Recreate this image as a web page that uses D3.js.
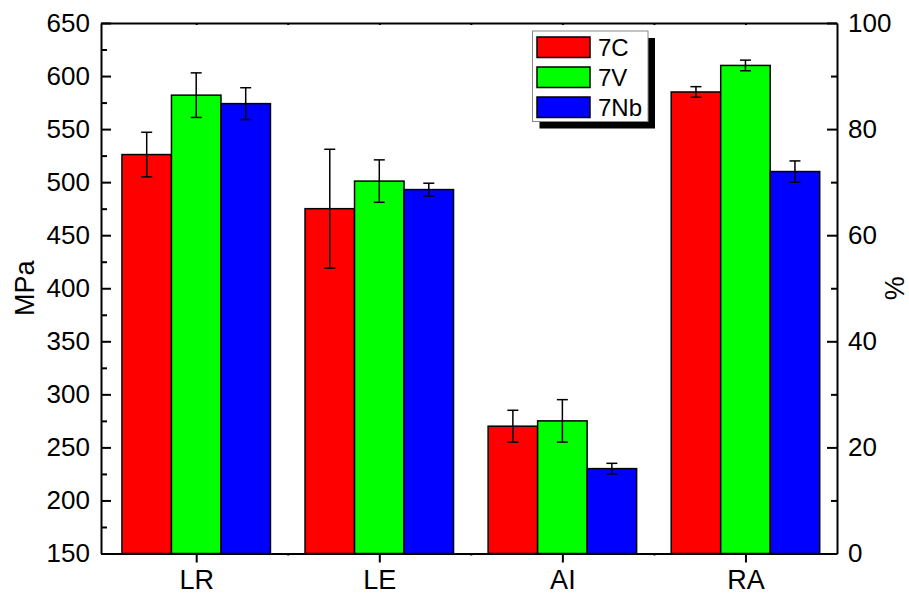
<!DOCTYPE html>
<html>
<head>
<meta charset="utf-8">
<script src="https://cdn.jsdelivr.net/npm/d3@7"></script>
<style>
  html, body { margin: 0; padding: 0; background: #fff; }
  svg { display: block; }
  text { font-family: "Liberation Sans", Arial, sans-serif; fill: #000; }
</style>
</head>
<body>
<svg id="chart" width="909" height="596"></svg>
<script>
// ---- data ----
const categories = ["LR", "LE", "AI", "RA"];
const seriesNames = ["7C", "7V", "7Nb"];
const seriesColors = ["#ff0000", "#00ff00", "#0000ff"];
const values7C  = [526, 475, 270, 87];
const values7V  = [582, 501, 275, 92];
const values7Nb = [574, 493, 230, 72];
const err7C  = [21, 56, 15, 1];
const err7V  = [21, 20, 20, 1];
const err7Nb = [15, 6, 5, 2];
const axisOfCategory = ["left", "left", "left", "right"];
const leftTicks = [150, 200, 250, 300, 350, 400, 450, 500, 550, 600, 650];
const rightTicks = [0, 20, 40, 60, 80, 100];

const seriesValues = [values7C, values7V, values7Nb];
const seriesErrors = [err7C, err7V, err7Nb];

// ---- layout ----
const W = 909, H = 596;
const L = 101, R = 837, T = 23, B = 553.5;

const svg = d3.select("#chart");
svg.append("rect").attr("width", W).attr("height", H).attr("fill", "#fff");

const x = d3.scaleLinear().domain([-0.52, 3.5]).range([L, R]);
const yL = d3.scaleLinear().domain([150, 650]).range([B, T]);
const yR = d3.scaleLinear().domain([0, 100]).range([B, T]);
const barW = 49.5;

// ---- bars ----
const rows = [];
categories.forEach((c, i) => {
  seriesNames.forEach((s, j) => {
    rows.push({ i, j, v: seriesValues[j][i], e: seriesErrors[j][i],
      y: axisOfCategory[i] === "left" ? yL : yR });
  });
});

const g = svg.append("g");
g.selectAll("rect.bar").data(rows).join("rect")
  .attr("class", "bar")
  .attr("x", d => x(d.i) + (d.j - 1.5) * barW)
  .attr("y", d => d.y(d.v))
  .attr("width", barW)
  .attr("height", d => d.y.range()[0] - d.y(d.v))
  .attr("fill", d => seriesColors[d.j])
  .attr("stroke", "#000")
  .attr("stroke-width", 1.5);

// error bars
const eb = g.selectAll("g.err").data(rows).join("g").attr("class", "err")
  .attr("stroke", "#000").attr("stroke-width", 1.5);
eb.append("line")
  .attr("x1", d => x(d.i) + (d.j - 1) * barW).attr("x2", d => x(d.i) + (d.j - 1) * barW)
  .attr("y1", d => d.y(d.v + d.e)).attr("y2", d => d.y(d.v - d.e));
eb.append("line")
  .attr("x1", d => x(d.i) + (d.j - 1) * barW - 5.5).attr("x2", d => x(d.i) + (d.j - 1) * barW + 5.5)
  .attr("y1", d => d.y(d.v + d.e)).attr("y2", d => d.y(d.v + d.e));
eb.append("line")
  .attr("x1", d => x(d.i) + (d.j - 1) * barW - 5.5).attr("x2", d => x(d.i) + (d.j - 1) * barW + 5.5)
  .attr("y1", d => d.y(d.v - d.e)).attr("y2", d => d.y(d.v - d.e));

// ---- axes ----
const tickFont = 26;
const catFont = 27;
// left axis
const leftAxis = d3.axisLeft(yL).tickValues(leftTicks).tickSizeInner(-10).tickSizeOuter(0).tickPadding(11);
const gl = svg.append("g").attr("transform", `translate(${L},0)`).call(leftAxis);
const leftMinor = d3.axisLeft(yL).tickValues(d3.range(175, 650, 50)).tickSize(-6).tickFormat("");
svg.append("g").attr("transform", `translate(${L},0)`).call(leftMinor).call(s => s.select(".domain").remove());
// right axis
const rightAxis = d3.axisRight(yR).tickValues(rightTicks).tickSizeInner(-10).tickSizeOuter(0).tickPadding(11);
const gr = svg.append("g").attr("transform", `translate(${R},0)`).call(rightAxis);
const rightMinor = d3.axisRight(yR).tickValues(d3.range(10, 100, 20)).tickSize(-6).tickFormat("");
svg.append("g").attr("transform", `translate(${R},0)`).call(rightMinor).call(s => s.select(".domain").remove());
// bottom axis
const bottomAxis = d3.axisBottom(x).tickValues(d3.range(categories.length))
  .tickFormat(i => categories[i]).tickSizeInner(9).tickSizeOuter(0).tickPadding(7);
const gb = svg.append("g").attr("transform", `translate(0,${B})`).call(bottomAxis);
const bottomMinor = d3.axisBottom(x).tickValues(d3.range(0.5, categories.length - 1, 1)).tickSize(2).tickFormat("");
svg.append("g").attr("transform", `translate(0,${B})`).call(bottomMinor).call(s => s.select(".domain").remove());
// top axis
const topAxis = d3.axisTop(x).tickValues(d3.range(0, categories.length - 0.5, 0.5)).tickSize(-2).tickSizeOuter(0).tickFormat("");
svg.append("g").attr("transform", `translate(0,${T})`).call(topAxis);

svg.selectAll(".domain").attr("stroke", "#000").attr("stroke-width", 2);
svg.selectAll(".tick line").attr("stroke", "#000").attr("stroke-width", 2);
svg.selectAll(".tick text").style("font-size", tickFont + "px")
  .style("font-family", '"Liberation Sans", Arial, sans-serif').attr("fill", "#000");
gb.selectAll(".tick text").style("font-size", catFont + "px").attr("dy", "0.71em");

// axis titles
svg.append("text").attr("transform", `translate(33.5,${(T + B) / 2}) rotate(-90)`)
  .attr("text-anchor", "middle").style("font-size", catFont + "px").text("MPa");
svg.append("text").attr("transform", `translate(904,${(T + B) / 2}) rotate(-90)`)
  .attr("text-anchor", "middle").style("font-size", catFont + "px").text("%");

// ---- legend ----
const lg = svg.append("g").attr("transform", "translate(532.5,31)");
lg.append("rect").attr("x", 7).attr("y", 7).attr("width", 115.5).attr("height", 90.5).attr("fill", "#000");
lg.append("rect").attr("x", 0).attr("y", 0).attr("width", 115.5).attr("height", 90.5)
  .attr("fill", "#fff").attr("stroke", "#888").attr("stroke-width", 1);
const li = lg.selectAll("g.item").data(seriesNames).join("g").attr("class", "item")
  .attr("transform", (d, k) => `translate(0,${k * 30})`);
li.append("rect").attr("x", 4.5).attr("y", 6).attr("width", 53).attr("height", 20.5)
  .attr("fill", (d, k) => seriesColors[k]).attr("stroke", "#000").attr("stroke-width", 1.5);
li.append("text").attr("x", 65.5).attr("y", 24.5).style("font-size", "24px").text(d => d);
</script>
</body>
</html>
